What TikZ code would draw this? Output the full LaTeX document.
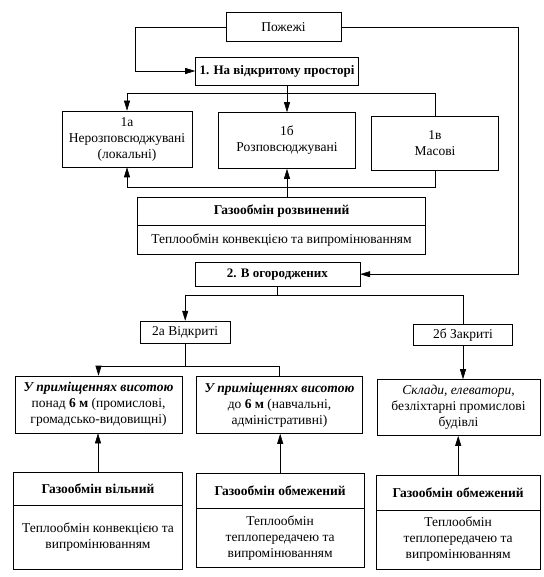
\documentclass[tikz,border=0pt]{standalone}
\usepackage{fontspec}
\setmainfont{Liberation Serif}
\usetikzlibrary{arrows.meta}
\tikzset{
box/.style={draw, line width=0.6pt, inner sep=0pt, align=center, font=\fontsize{13.5}{16}\selectfont},
gas/.style={box, font=\bfseries\fontsize{13.5}{16}\selectfont},
head/.style={box, font=\bfseries\fontsize{13}{16}\selectfont},
arr/.style={-{Triangle[length=10pt,width=6pt]}},
link/.style={line width=0.6pt}
}

\begin{document}
\begin{tikzpicture}[x=1pt,y=-1pt,link]
  \useasboundingbox (0,0) rectangle (543,577);
  % top level
  \node[box, minimum width=115pt, minimum height=29pt] (fires) at (283.5,27) {Пожежі};
  \node[head, minimum width=163pt, minimum height=28pt] (open) at (277,71) {1. На відкритому просторі};
  \node[box, minimum width=130pt, minimum height=56pt] (la) at (127,139) {1а\\Нерозповсюджувані\\(локальні)};
  \node[box, minimum width=137pt, minimum height=56pt] (lb) at (287,140.5) {1б\\Розповсюджувані};
  \node[box, minimum width=127pt, minimum height=54pt] (lv) at (435,143) {1в\\Масові};
  \node[gas, minimum width=288pt, minimum height=28pt] (gasa) at (281.6,211.2) {Газообмін розвинений};
  \node[box, minimum width=288pt, minimum height=29pt] (gasb) at (281.6,239.7) {Теплообмін конвекцією та випромінюванням};
  % enclosures
  \node[head, minimum width=165pt, minimum height=24pt] (encl) at (277.4,274.2) {2. В огороджених};
  \node[box, minimum width=90pt, minimum height=22.5pt] (ea) at (185.2,332.3) {2а Відкриті};
  \node[box, minimum width=99pt, minimum height=21pt] (eb) at (463,334.8) {2б Закриті};
  \node[box, minimum width=167pt, minimum height=57pt] (ha) at (98.5,404.5) {\textbf{\textit{У приміщеннях висотою}}\\понад \textbf{6 м} (промислові,\\громадсько-видовищні)};
  \node[box, minimum width=166pt, minimum height=57pt] (hb) at (279.5,405) {\textbf{\textit{У приміщеннях висотою}}\\до \textbf{6 м} (навчальні,\\адміністративні)};
  \node[box, minimum width=163pt, minimum height=56pt] (hc) at (458.5,407.5) {\textit{Склади, елеватори,}\\безліхтарні промислові\\будівлі};
  \node[gas, minimum width=169pt, minimum height=33pt] (gaa) at (98,488.5) {Газообмін вільний};
  \node[box, minimum width=169pt, minimum height=64pt] (gab) at (98,537) {Теплообмін конвекцією та\\випромінюванням};
  \node[gas, minimum width=167.5pt, minimum height=34.6pt] (gba) at (280.2,491) {Газообмін обмежений};
  \node[box, minimum width=167.5pt, minimum height=58.7pt] (gbb) at (280.2,537.65) {Теплообмін\\теплопередачею та\\випромінюванням};
  \node[gas, minimum width=163.5pt, minimum height=34.6pt] (gca) at (458.2,492.7) {Газообмін обмежений};
  \node[box, minimum width=163.5pt, minimum height=59pt] (gcb) at (458.2,539.5) {Теплообмін\\теплопередачею та\\випромінюванням};
  % connectors
  \draw[arr] (fires.west) -- ++(-90,0) |- (open.west);
  \draw[arr] (fires.east) -- ++(177,0) |- (encl.east);
  \draw[arr] (open.south -| lb.north) -- (lb.north);
  \draw (open.south -| lb.north) -- ++(0,8.5) coordinate (j1);
  \draw[arr] (j1) -| (la.north);
  \draw (j1) -| (lv.north);
  \draw[arr] (lv.south) -- ++(0,17) -| (la.south);
  \draw[arr] (gasa.north -| lb.south) -- (lb.south);
  \draw (encl.south) -- ++(0,9) coordinate (j2);
  \draw[arr] (j2) -| (ea.north);
  \draw (j2) -| (eb.north);
  \draw (ea.south) -- ++(0,22.5) coordinate (j3);
  \draw[arr] (j3) -| (ha.north);
  \draw (j3) -| (hb.north);
  \draw[arr] (eb.south) -- (eb.south |- hc.north);
  \draw[arr] (gaa.north) -- (gaa.north |- ha.south);
  \draw[arr] (gba.north) -- (gba.north |- hb.south);
  \draw[arr] (gca.north) -- (gca.north |- hc.south);
\end{tikzpicture}
\end{document}
